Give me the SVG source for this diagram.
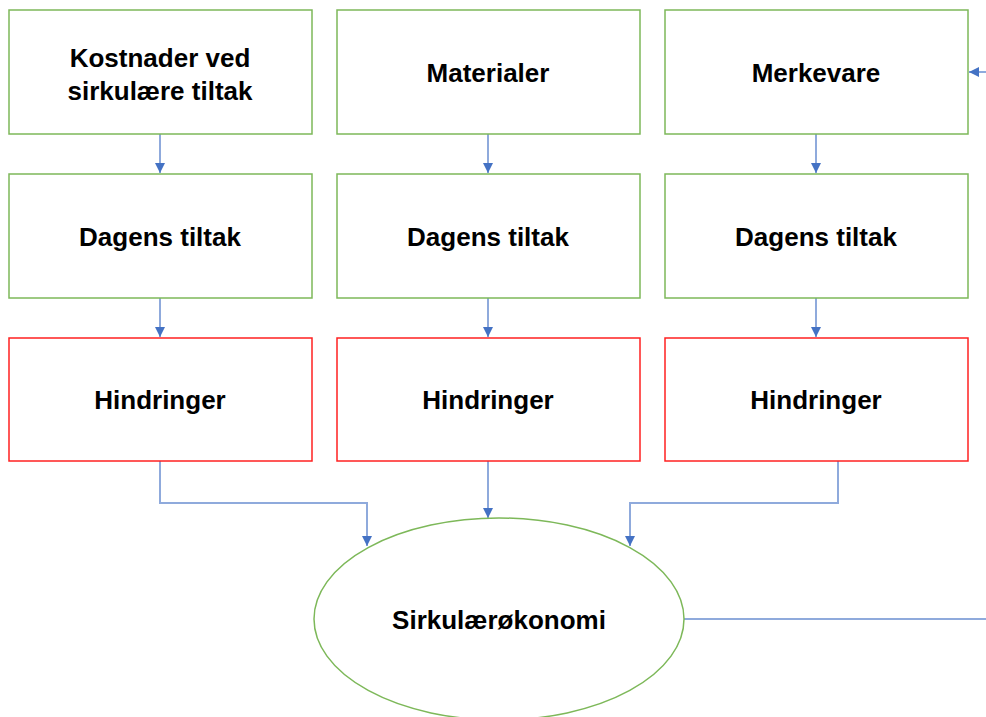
<svg xmlns="http://www.w3.org/2000/svg" width="986" height="717" viewBox="0 0 986 717">
<defs>
<marker id="ah" viewBox="0 0 10 10" refX="10" refY="5" markerWidth="10" markerHeight="10" markerUnits="userSpaceOnUse" orient="auto">
<path d="M0,0 L10,5 L0,10 z" fill="#4472C4"/>
</marker>
<style>
.g{fill:#fff;stroke:#7DB859;stroke-width:1.5}
.r{fill:#fff;stroke:#FF2020;stroke-width:1.5}
.c{fill:none;stroke:#8FAADC;stroke-width:2}
.t{font-family:"Liberation Sans",Arial,sans-serif;font-weight:bold;font-size:26px;fill:#000;text-anchor:middle;dominant-baseline:central}
</style>
</defs>
<rect width="986" height="717" fill="#fff"/>
<g id="connectors">
<path class="c" d="M160,134 V173" marker-end="url(#ah)"/>
<path class="c" d="M488,134 V173" marker-end="url(#ah)"/>
<path class="c" d="M816,134 V173" marker-end="url(#ah)"/>
<path class="c" d="M160,298 V337" marker-end="url(#ah)"/>
<path class="c" d="M488,298 V337" marker-end="url(#ah)"/>
<path class="c" d="M816,298 V337" marker-end="url(#ah)"/>
<path class="c" d="M160,461 V503 H367 V546" marker-end="url(#ah)"/>
<path class="c" d="M488,461 V518" marker-end="url(#ah)"/>
<path class="c" d="M838,461 V503 H630 V546" marker-end="url(#ah)"/>
<path class="c" d="M684,619 H986"/>
<path class="c" d="M986,72 H969" marker-end="url(#ah)"/>
</g>
<g id="kostnader"><rect class="g" x="9" y="10" width="303" height="124"/><text class="t" x="160" y="58">Kostnader ved</text><text class="t" x="160" y="91">sirkulære tiltak</text></g>
<g id="materialer"><rect class="g" x="337" y="10" width="303" height="124"/><text class="t" x="488" y="73">Materialer</text></g>
<g id="merkevare"><rect class="g" x="665" y="10" width="303" height="124"/><text class="t" x="816" y="73">Merkevare</text></g>
<g id="dagens1"><rect class="g" x="9" y="174" width="303" height="124"/><text class="t" x="160" y="237">Dagens tiltak</text></g>
<g id="dagens2"><rect class="g" x="337" y="174" width="303" height="124"/><text class="t" x="488" y="237">Dagens tiltak</text></g>
<g id="dagens3"><rect class="g" x="665" y="174" width="303" height="124"/><text class="t" x="816" y="237">Dagens tiltak</text></g>
<g id="hindringer1"><rect class="r" x="9" y="338" width="303" height="123"/><text class="t" x="160" y="400">Hindringer</text></g>
<g id="hindringer2"><rect class="r" x="337" y="338" width="303" height="123"/><text class="t" x="488" y="400">Hindringer</text></g>
<g id="hindringer3"><rect class="r" x="665" y="338" width="303" height="123"/><text class="t" x="816" y="400">Hindringer</text></g>
<g id="sirkulaerokonomi"><ellipse class="g" cx="499" cy="619" rx="185" ry="101"/><text class="t" x="499" y="620">Sirkulærøkonomi</text></g>
</svg>
